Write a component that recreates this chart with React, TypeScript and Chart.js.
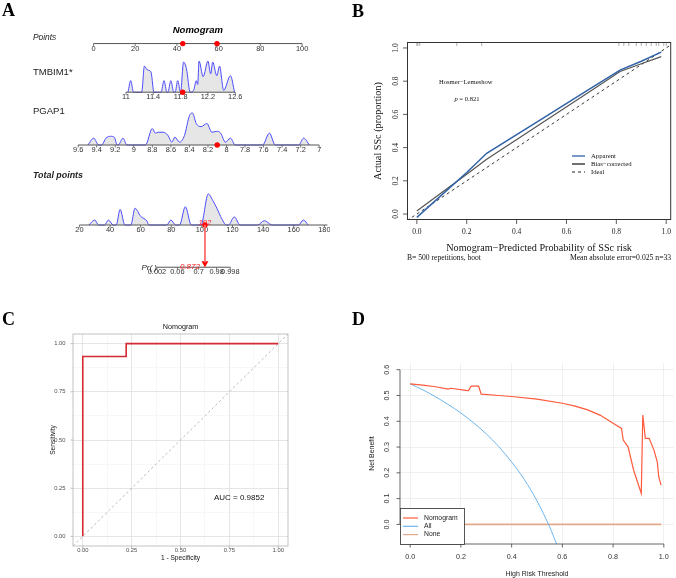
import React, { useEffect, useRef } from 'react';
import { Chart, registerables } from 'chart.js';

Chart.register(...registerables);

const SANS = '"Liberation Sans", Arial, Helvetica, sans-serif';
const SERIF = '"Liberation Serif", "Times New Roman", serif';

// ================= Panel A : nomogram =================
const POINTS_TICKS = [0, 20, 40, 60, 80, 100];
const TMBIM1_TICKS = [11, 11.4, 11.8, 12.2, 12.6];
const PGAP1_TICKS = [9.6, 9.4, 9.2, 9, 8.8, 8.6, 8.4, 8.2, 8, 7.8, 7.6, 7.4, 7.2, 7];
const TOTAL_TICKS = [20, 40, 60, 80, 100, 120, 140, 160, 180];
const PR_TICKS = [0.002, 0.06, 0.7, 0.98, 0.998];

// density outlines (value on the variable axis, relative density)
const TMBIM1_DENS_X = [11.03, 11.07, 11.11, 11.23, 11.27, 11.31, 11.35, 11.37, 11.41, 11.514, 11.557, 11.6, 11.614, 11.657, 11.7, 11.72, 11.757, 11.8, 11.843, 11.886, 11.94, 11.99, 12.03, 12.05, 12.07, 12.13, 12.2, 12.24, 12.27, 12.33, 12.37, 12.43, 12.53, 12.59];
const TMBIM1_DENS_H = [0, 0.37, 0, 0, 0.84, 0.72, 0.69, 0.62, 0, 0, 0.37, 0, 0, 0.37, 0, 0, 0.37, 0, 0.97, 0.75, 0, 0.06, 0.37, 0.25, 1.0, 0.5, 1.0, 0.59, 0.97, 0.53, 0.84, 0.06, 0.53, 0];
const PGAP1_DENS_X = [9.495, 9.432, 9.379, 9.347, 9.3, 9.25, 9.21, 9.179, 9.168, 9.116, 9.074, 8.874, 8.8, 8.768, 8.737, 8.684, 8.632, 8.589, 8.558, 8.505, 8.453, 8.4, 8.368, 8.326, 8.274, 8.211, 8.158, 8.105, 8.063, 8.011, 7.958, 7.905, 7.611, 7.537, 7.474, 7.221, 7.168, 7.105];
const PGAP1_DENS_H = [0, 0.22, 0, 0, 0.22, 0.28, 0.25, 0, 0, 0.22, 0, 0, 0.53, 0.38, 0.41, 0.41, 0.31, 0.09, 0.25, 0.09, 0.31, 0.94, 1.03, 0.69, 0.59, 0.69, 0.41, 0.44, 0.38, 0.09, 0.22, 0, 0, 0.38, 0, 0, 0.22, 0];
const TOTAL_DENS_X = [26.2, 30, 32.5, 36.4, 38.9, 42.1, 44, 46.6, 49.7, 53.6, 56.3, 60, 64.2, 65.3, 77.1, 79.7, 82.9, 85.4, 89.2, 93.1, 99.4, 104.2, 107, 109.9, 113, 116, 117.3, 121.2, 124.9, 136.4, 140.8, 145.9, 163.1, 166.3, 169.5];
const TOTAL_DENS_H = [0, 0.16, 0, 0, 0.16, 0, 0, 0.5, 0, 0, 0.54, 0.28, 0.12, 0, 0, 0.16, 0, 0, 0.59, 0, 0, 1.0, 0.8, 0.53, 0.2, 0, 0, 0.26, 0, 0, 0.14, 0, 0, 0.16, 0];

const SUBJECT_POINTS = [42.8, 59.2];
const SUBJECT_TMBIM1 = 11.83;
const SUBJECT_PGAP1 = 8.1;
const SUBJECT_TOTAL = 102;
const SUBJECT_PR = 0.872;

// ================= Panel B : calibration =================
const CAL_TICKS = [0, 0.2, 0.4, 0.6, 0.8, 1.0];
const APPARENT_X = [0, 0.1, 0.2, 0.28, 0.5, 0.7, 0.815, 0.9, 0.98];
const APPARENT_Y = [-0.02, 0.115, 0.25, 0.366, 0.572, 0.76, 0.867, 0.92, 0.975];
const BIAS_X = [0, 0.1, 0.2, 0.28, 0.5, 0.7, 0.815, 0.9, 0.98];
const BIAS_Y = [0.018, 0.13, 0.24, 0.33, 0.547, 0.744, 0.858, 0.905, 0.948];
const IDEAL_X = [-0.04, 1.02];
const IDEAL_Y = [-0.04, 1.02];
const RUG_X = [0, 0.004, 0.012, 0.16, 0.26, 0.81, 0.83, 0.85, 0.88, 0.9, 0.92, 0.94, 0.96, 0.97, 0.99, 1.0];

// ================= Panel C : ROC =================
const ROC_FPR = [0, 0, 0.2222, 0.2222, 1];
const ROC_TPR = [0, 0.9333, 0.9333, 1, 1];
const ROC_TICKS = [0, 0.25, 0.5, 0.75, 1];
const ROC_MINOR = [0.125, 0.375, 0.625, 0.875];
const AUC_LABEL = 'AUC = 0.9852';

// ================= Panel D : decision curve =================
const DCA_X_TICKS = [0, 0.2, 0.4, 0.6, 0.8, 1.0];
const DCA_Y_TICKS = [0, 0.1, 0.2, 0.3, 0.4, 0.5, 0.6];
const NOMO_THRESH = [0, 0.05, 0.1, 0.15, 0.16, 0.22, 0.23, 0.24, 0.27, 0.28, 0.35, 0.4, 0.5, 0.6, 0.65, 0.7, 0.75, 0.8, 0.833, 0.84, 0.859, 0.881, 0.911, 0.917, 0.927, 0.942, 0.961, 0.974, 0.98, 0.989];
const NOMO_NB = [0.545, 0.54, 0.534, 0.525, 0.528, 0.52, 0.519, 0.536, 0.536, 0.505, 0.5, 0.496, 0.486, 0.47, 0.459, 0.444, 0.423, 0.392, 0.372, 0.327, 0.301, 0.21, 0.12, 0.424, 0.334, 0.334, 0.288, 0.243, 0.184, 0.152];
const ALL_THRESH = [0, 0.05, 0.1, 0.15, 0.2, 0.25, 0.3, 0.35, 0.4, 0.45, 0.5, 0.55, 0.58];
const ALL_NB = [0.545, 0.522, 0.495, 0.465, 0.432, 0.394, 0.351, 0.301, 0.242, 0.174, 0.091, -0.01, -0.083];
const NONE_THRESH = [0, 0.99];
const NONE_NB = [0, 0];

// ---------------- helpers ----------------
const zip = (xs: number[], ys: number[]) => xs.map((x, i) => ({ x, y: ys[i] }));

function text(ctx: any, s: string, x: number, y: number, font: string, color = '#000', align = 'left', baseline = 'middle', rot = 0) {
  ctx.save();
  ctx.font = font;
  ctx.fillStyle = color;
  ctx.textAlign = align;
  ctx.textBaseline = baseline;
  ctx.translate(x, y);
  if (rot) ctx.rotate(rot);
  ctx.fillText(s, 0, 0);
  ctx.restore();
}

function seg(ctx: any, x1: number, y1: number, x2: number, y2: number, color: string, w = 1, dash: number[] = []) {
  ctx.save();
  ctx.strokeStyle = color;
  ctx.lineWidth = w;
  ctx.setLineDash(dash);
  ctx.beginPath();
  ctx.moveTo(x1, y1);
  ctx.lineTo(x2, y2);
  ctx.stroke();
  ctx.restore();
}

const baseOpts = {
  responsive: false,
  animation: false,
  devicePixelRatio: 1,
  events: [],
  plugins: { legend: { display: false }, tooltip: { enabled: false }, title: { display: false } },
};

// ================= Panel A config =================
const A_W = 330, A_H = 290;
const A_PTS0_PX = 91.7, A_PTS_PER = 2.138;
const A_TOT20_PX = 77.3, A_TOT_PER = 1.56875;
const A_X_MIN = -A_PTS0_PX / A_PTS_PER;
const A_X_MAX = A_X_MIN + A_W / A_PTS_PER;
const A_XT_MIN = 20 - A_TOT20_PX / A_TOT_PER;
const A_XT_MAX = A_XT_MIN + A_W / A_TOT_PER;
const ROW = { points: 40.7, tmbim1: 90.7, pgap1: 145, total: 227.3, pr: 270.7 };
const DENS_SCALE = 32;
const TMBIM1_MAP: [number, number][] = [[11, 15.57], [12.6, 67.96]];
const PGAP1_MAP: [number, number][] = [[9.6, -7.34], [7, 108.2]];
const PR_LP = { a: -24.55, b: 0.2595 };
const lin = (v: number, m: [number, number][]) => m[0][1] + ((v - m[0][0]) * (m[1][1] - m[0][1])) / (m[1][0] - m[0][0]);
const tmbPts = (v: number) => lin(v, TMBIM1_MAP);
const pgapPts = (v: number) => lin(v, PGAP1_MAP);
const prToTotal = (p: number) => (Math.log(p / (1 - p)) - PR_LP.a) / PR_LP.b;

const DENS_LINE = '#4b4bff';
const DENS_FILL = '#e6e6e6';
const RED = '#ff0000';
const AX = '#555555';

function drawNomoAxes(chart: any) {
  const ctx = chart.ctx;
  const xs = chart.scales.x, xt = chart.scales.xt, ys = chart.scales.y;
  const tickFont = `7.4px ${SANS}`;
  const axis = (scale: any, from: number, to: number, rowV: number, ticks: { p: number; l: string }[]) => {
    const y = ys.getPixelForValue(rowV);
    seg(ctx, scale.getPixelForValue(from), y, scale.getPixelForValue(to), y, AX, 1);
    ticks.forEach((t) => {
      const px = scale.getPixelForValue(t.p);
      seg(ctx, px, y, px, y + 2.5, AX, 0.8);
      text(ctx, t.l, px, y + 5, tickFont, '#333', 'center', 'middle');
    });
  };
  axis(xs, 0, 100, ROW.points, POINTS_TICKS.map((v) => ({ p: v, l: String(v) })));
  axis(xs, tmbPts(11), tmbPts(12.6), ROW.tmbim1, TMBIM1_TICKS.map((v) => ({ p: tmbPts(v), l: String(v) })));
  axis(xs, pgapPts(9.6), pgapPts(7), ROW.pgap1, PGAP1_TICKS.map((v) => ({ p: pgapPts(v), l: String(v) })));
  axis(xt, 20, 182, ROW.total, TOTAL_TICKS.map((v) => ({ p: v, l: String(v) })));
  axis(xt, prToTotal(0.002), prToTotal(0.998), ROW.pr, PR_TICKS.map((v) => ({ p: prToTotal(v), l: String(v) })));

  text(ctx, 'Nomogram', xs.getPixelForValue(50), 30, `italic bold 9.5px ${SANS}`, '#000', 'center');
  text(ctx, 'Points', 33, 37.3, `italic 8.4px ${SANS}`, '#222');
  text(ctx, 'TMBIM1*', 33, 72.7, `9.5px ${SANS}`, '#222');
  text(ctx, 'PGAP1', 33, 111.7, `9.5px ${SANS}`, '#222');
  text(ctx, 'Total points', 33, 176, `italic bold 8.9px ${SANS}`, '#222');
  text(ctx, 'Pr( )', xt.getPixelForValue(prToTotal(0.002)), 268, `italic 8px ${SANS}`, '#222', 'right');
  text(ctx, 'A', 2, 16, `bold 18px ${SERIF}`, '#000', 'left', 'alphabetic');
}

const nomoPlugin = {
  id: 'nomo',
  beforeDatasetsDraw(chart: any) {
    chart.$nomoDone = false;
  },
  beforeDatasetDraw(chart: any, args: any) {
    if (!chart.$nomoDone && chart.data.datasets[args.index].isMarker) {
      drawNomoAxes(chart);
      chart.$nomoDone = true;
    }
  },
  afterDatasetsDraw(chart: any) {
    if (!chart.$nomoDone) {
      drawNomoAxes(chart);
      chart.$nomoDone = true;
    }
    const ctx = chart.ctx;
    const xt = chart.scales.xt;
    const px = xt.getPixelForValue(SUBJECT_TOTAL);
    text(ctx, String(SUBJECT_TOTAL), px, 223, `italic 7.6px ${SANS}`, '#ff2020', 'center');
    text(ctx, String(SUBJECT_PR), xt.getPixelForValue(prToTotal(SUBJECT_PR)) - 5, 266.5, `italic 8px ${SANS}`, '#ff2020', 'right');
  },
};

function configA(): any {
  const dens = (xs: number[], hs: number[], map: (v: number) => number, row: number, axisId: string) => ({
    type: 'line',
    xAxisID: axisId,
    yAxisID: 'y',
    order: 2,
    data: xs.map((v, i) => ({ x: map(v), y: row - hs[i] * DENS_SCALE })),
    borderColor: DENS_LINE,
    borderWidth: 1,
    backgroundColor: DENS_FILL,
    fill: { value: row },
    pointRadius: 0,
    cubicInterpolationMode: 'monotone',
  });
  return {
    type: 'line',
    data: {
      datasets: [
        dens(TMBIM1_DENS_X, TMBIM1_DENS_H, tmbPts, ROW.tmbim1, 'x'),
        dens(PGAP1_DENS_X, PGAP1_DENS_H, pgapPts, ROW.pgap1, 'x'),
        dens(TOTAL_DENS_X, TOTAL_DENS_H, (v: number) => v, ROW.total, 'xt'),
        {
          type: 'scatter', isMarker: true, order: 0, xAxisID: 'x', yAxisID: 'y',
          data: [
            { x: SUBJECT_POINTS[0], y: ROW.points },
            { x: SUBJECT_POINTS[1], y: ROW.points },
            { x: tmbPts(SUBJECT_TMBIM1), y: ROW.tmbim1 },
            { x: pgapPts(SUBJECT_PGAP1), y: ROW.pgap1 },
          ],
          pointRadius: 2.7, pointBackgroundColor: RED, pointBorderWidth: 0, backgroundColor: RED,
        },
        {
          type: 'line', isMarker: true, order: 0, xAxisID: 'xt', yAxisID: 'y',
          data: [{ x: SUBJECT_TOTAL, y: ROW.total }, { x: prToTotal(SUBJECT_PR), y: ROW.pr - 5 }],
          borderColor: '#ff6a6a', borderWidth: 1, pointRadius: 0, fill: false,
        },
        {
          type: 'scatter', isMarker: true, order: 0, xAxisID: 'xt', yAxisID: 'y',
          data: [{ x: SUBJECT_TOTAL, y: ROW.total }],
          pointRadius: 2.7, pointBackgroundColor: RED, pointBorderWidth: 0, backgroundColor: RED,
        },
        {
          type: 'scatter', isMarker: true, order: 0, xAxisID: 'xt', yAxisID: 'y',
          data: [{ x: prToTotal(SUBJECT_PR), y: ROW.pr - 4 }],
          pointStyle: 'triangle', pointRotation: 180, rotation: 180,
          pointRadius: 4, pointBackgroundColor: RED, pointBorderWidth: 0, backgroundColor: RED,
        },
      ],
    },
    options: {
      ...baseOpts,
      layout: { padding: 0 },
      scales: {
        x: { type: 'linear', display: false, min: A_X_MIN, max: A_X_MAX },
        xt: { type: 'linear', axis: 'x', position: 'bottom', display: false, min: A_XT_MIN, max: A_XT_MAX },
        y: { type: 'linear', display: false, min: 0, max: A_H, reverse: true },
      },
    },
    plugins: [nomoPlugin],
  };
}

// ================= Panel B config =================
const B_W = 341, B_H = 290;
const BLUE_APP = '#3163a8';

const calPlugin = {
  id: 'cal',
  afterDatasetsDraw(chart: any) {
    const { ctx, chartArea: a } = chart;
    const x = chart.scales.x, y = chart.scales.y;
    ctx.save();
    ctx.strokeStyle = '#333';
    ctx.lineWidth = 1;
    ctx.strokeRect(a.left + 0.5, a.top + 0.5, a.right - a.left - 1, a.bottom - a.top - 1);
    ctx.restore();
    const tf = `7.5px ${SERIF}`;
    CAL_TICKS.forEach((v) => {
      const py = y.getPixelForValue(v);
      seg(ctx, a.left, py, a.left - 4, py, '#333', 0.8);
      text(ctx, v.toFixed(1), 61, py, tf, '#222', 'center', 'middle', -Math.PI / 2);
      const px = x.getPixelForValue(v);
      seg(ctx, px, a.bottom, px, a.bottom + 4, '#333', 0.8);
      text(ctx, v.toFixed(1), px, 232, tf, '#222', 'center', 'middle');
    });
    text(ctx, 'Nomogram\u2212Predicted Probability of SSc risk', (a.left + a.right) / 2, 248, `10.2px ${SERIF}`, '#111', 'center');
    text(ctx, 'B= 500 repetitions, boot', a.left, 257.5, `7.6px ${SERIF}`, '#111', 'left');
    text(ctx, 'Mean absolute error=0.025 n=33', a.right, 257.5, `7.7px ${SERIF}`, '#111', 'right');
    text(ctx, 'Actual SSc (proportion)', 43, (a.top + a.bottom) / 2, `10.2px ${SERIF}`, '#111', 'center', 'middle', -Math.PI / 2);
    text(ctx, 'Hosmer\u2212Lemeshow', 104, 82, `6.6px ${SERIF}`, '#111', 'left');
    ctx.save();
    ctx.font = `6.6px ${SERIF}`;
    const w1 = ctx.measureText(' = 0.821').width;
    ctx.font = `italic 6.6px ${SERIF}`;
    const w0 = ctx.measureText('p').width;
    ctx.restore();
    const sx = 132 - (w0 + w1) / 2;
    text(ctx, 'p', sx, 99.3, `italic 6.6px ${SERIF}`, '#111', 'left');
    text(ctx, ' = 0.821', sx + w0, 99.3, `6.6px ${SERIF}`, '#111', 'left');
    // legend
    const items = [
      { l: 'Apparent', c: BLUE_APP, d: [] as number[], w: 1.3 },
      { l: 'Bias\u2212corrected', c: '#222', d: [] as number[], w: 1.3 },
      { l: 'Ideal', c: '#222', d: [3, 3], w: 1 },
    ];
    items.forEach((it, i) => {
      const yy = 156 + i * 8;
      seg(ctx, 237, yy, 250, yy, it.c, it.w, it.d);
      text(ctx, it.l, 256, yy, `6.7px ${SERIF}`, '#111', 'left');
    });
    text(ctx, 'B', 17, 17, `bold 18px ${SERIF}`, '#000', 'left', 'alphabetic');
  },
};

function configB(): any {
  return {
    type: 'line',
    data: {
      datasets: [
        { data: zip(APPARENT_X, APPARENT_Y), borderColor: BLUE_APP, borderWidth: 1.5, pointRadius: 0, fill: false },
        { data: zip(BIAS_X, BIAS_Y), borderColor: '#555', borderWidth: 1.2, pointRadius: 0, fill: false },
        { data: zip(IDEAL_X, IDEAL_Y), borderColor: '#222', borderWidth: 0.9, borderDash: [3, 3], pointRadius: 0, fill: false },
        {
          type: 'scatter', data: RUG_X.map((v) => ({ x: v, y: 1.024 })),
          pointStyle: 'line', pointRotation: 90, pointRadius: 2, pointBorderColor: '#999', pointBorderWidth: 0.8, clip: false,
        },
      ],
    },
    options: {
      ...baseOpts,
      layout: { padding: { left: 72, top: 42, right: 1, bottom: 70 } },
      scales: {
        x: { type: 'linear', display: false, min: -0.0395, max: 1.02 },
        y: { type: 'linear', display: false, min: -0.036, max: 1.036 },
      },
    },
    plugins: [calPlugin],
  };
}

// ================= Panel C config =================
const C_W = 335, C_H = 288;
const ROC_RED = '#d42a34';

const rocPlugin = {
  id: 'roc',
  afterDatasetsDraw(chart: any) {
    const { ctx, chartArea: a } = chart;
    const x = chart.scales.x, y = chart.scales.y;
    ctx.save();
    ctx.strokeStyle = '#b3b3b3';
    ctx.lineWidth = 0.8;
    ctx.strokeRect(a.left, a.top, a.right - a.left, a.bottom - a.top);
    ctx.restore();
    const tf = `5.8px ${SANS}`;
    ROC_TICKS.forEach((v) => {
      const py = y.getPixelForValue(v);
      seg(ctx, a.left, py, a.left - 2.5, py, '#b3b3b3', 0.8);
      text(ctx, v.toFixed(2), a.left - 7.5, py, tf, '#4d4d4d', 'right');
      const px = x.getPixelForValue(v);
      seg(ctx, px, a.bottom, px, a.bottom + 2.5, '#b3b3b3', 0.8);
      text(ctx, v.toFixed(2), px, 260.7, tf, '#4d4d4d', 'center');
    });
    text(ctx, 'Nomogram', (a.left + a.right) / 2, 37, `7.2px ${SANS}`, '#111', 'center');
    text(ctx, '1 - Specificity', (a.left + a.right) / 2, 268, `6.6px ${SANS}`, '#111', 'center');
    text(ctx, 'Sensitivity', 53, (a.top + a.bottom) / 2, `6.6px ${SANS}`, '#111', 'center', 'middle', -Math.PI / 2);
    text(ctx, AUC_LABEL, x.getPixelForValue(0.8), y.getPixelForValue(0.2), `8px ${SANS}`, '#111', 'center');
    text(ctx, 'C', 2, 35, `bold 18px ${SERIF}`, '#000', 'left', 'alphabetic');
  },
};

function gridScale(min: number, max: number, ticks: number[], colorFn: (v: number) => string, widthFn: (v: number) => number, vertical: boolean): any {
  return {
    type: 'linear',
    min,
    max,
    display: true,
    afterBuildTicks: (s: any) => {
      s.ticks = ticks.map((v) => ({ value: v }));
    },
    afterFit: (s: any) => {
      if (vertical) s.width = 0;
      else s.height = 0;
    },
    ticks: { display: false },
    border: { display: false },
    grid: {
      drawTicks: false,
      color: (c: any) => colorFn(c.tick ? c.tick.value : 0),
      lineWidth: (c: any) => widthFn(c.tick ? c.tick.value : 0),
    },
  };
}

function configC(): any {
  const all = [...ROC_TICKS, ...ROC_MINOR];
  const isMajor = (v: number) => ROC_TICKS.some((t) => Math.abs(t - v) < 1e-6);
  const col = (v: number) => (isMajor(v) ? '#dedede' : '#efefef');
  const wid = (v: number) => (isMajor(v) ? 0.8 : 0.5);
  return {
    type: 'line',
    data: {
      datasets: [
        { data: zip(ROC_FPR, ROC_TPR), borderColor: ROC_RED, borderWidth: 1.6, pointRadius: 0, fill: false },
        { data: [{ x: -0.05, y: -0.05 }, { x: 1.05, y: 1.05 }], borderColor: '#a8a8a8', borderWidth: 0.8, borderDash: [2.5, 2.5], pointRadius: 0, fill: false },
      ],
    },
    options: {
      ...baseOpts,
      layout: { padding: { left: 73, top: 44, right: C_W - 288, bottom: C_H - 256 } },
      scales: {
        x: gridScale(-0.05, 1.05, all, col, wid, false),
        y: gridScale(-0.05, 1.05, all, col, wid, true),
      },
    },
    plugins: [rocPlugin],
  };
}

// ================= Panel D config =================
const D_W = 341, D_H = 288;
const NOMO_COL = '#ff5a3c';
const ALL_COL = '#6cb6ef';
const NONE_COL = '#e2aa8c';

const dcaPlugin = {
  id: 'dca',
  afterDatasetsDraw(chart: any) {
    const { ctx, chartArea: a } = chart;
    const x = chart.scales.x, y = chart.scales.y;
    const tf = `7.2px ${SANS}`;
    seg(ctx, a.left, y.getPixelForValue(0), a.left, y.getPixelForValue(0.6), '#555', 0.9);
    DCA_Y_TICKS.forEach((v) => {
      const py = y.getPixelForValue(v);
      seg(ctx, a.left, py, a.left - 3.5, py, '#555', 0.9);
      text(ctx, v.toFixed(1), 52, py, tf, '#333', 'center', 'middle', -Math.PI / 2);
    });
    seg(ctx, x.getPixelForValue(0), a.bottom, x.getPixelForValue(1), a.bottom, '#555', 0.9);
    DCA_X_TICKS.forEach((v) => {
      const px = x.getPixelForValue(v);
      seg(ctx, px, a.bottom, px, a.bottom + 3.5, '#555', 0.9);
      text(ctx, v.toFixed(1), px, 267, tf, '#333', 'center');
    });
    text(ctx, 'High Risk Threshold', (x.getPixelForValue(0) + x.getPixelForValue(1)) / 2, 284, `7px ${SANS}`, '#222', 'center');
    text(ctx, 'Net Benefit', 37, (a.top + a.bottom) / 2, `7px ${SANS}`, '#222', 'center', 'middle', -Math.PI / 2);
    // legend box (bottom-left)
    const lx = a.left, ly = 218, lw = 64, lh = a.bottom - 218;
    ctx.save();
    ctx.fillStyle = '#fff';
    ctx.fillRect(lx, ly, lw, lh);
    ctx.strokeStyle = '#444';
    ctx.lineWidth = 0.9;
    ctx.strokeRect(lx + 0.5, ly + 0.5, lw, lh);
    ctx.restore();
    const items = [
      { l: 'Nomogram', c: NOMO_COL },
      { l: 'All', c: ALL_COL },
      { l: 'None', c: NONE_COL },
    ];
    items.forEach((it, i) => {
      const yy = 228 + i * 8.3;
      seg(ctx, lx + 3, yy, lx + 18, yy, it.c, 1.2);
      text(ctx, it.l, lx + 24, yy, `6.8px ${SANS}`, '#222', 'left');
    });
    text(ctx, 'D', 17, 35, `bold 18px ${SERIF}`, '#000', 'left', 'alphabetic');
  },
};

function configD(): any {
  const gc = () => '#ececec';
  const gw = () => 0.8;
  return {
    type: 'line',
    data: {
      datasets: [
        { data: zip(NOMO_THRESH, NOMO_NB), borderColor: NOMO_COL, borderWidth: 1.2, pointRadius: 0, fill: false },
        { data: zip(ALL_THRESH, ALL_NB), borderColor: ALL_COL, borderWidth: 1, pointRadius: 0, fill: false, cubicInterpolationMode: 'monotone' },
        { data: zip(NONE_THRESH, NONE_NB), borderColor: NONE_COL, borderWidth: 1.6, pointRadius: 0, fill: false },
      ],
    },
    options: {
      ...baseOpts,
      layout: { padding: { left: 65, top: 73, right: D_W - 339, bottom: D_H - 254 } },
      scales: {
        x: gridScale(-0.04, 1.04, DCA_X_TICKS, gc, gw, false),
        y: gridScale(-0.076, 0.626, DCA_Y_TICKS, gc, gw, true),
      },
    },
    plugins: [dcaPlugin],
  };
}

export default function App() {
  const aRef = useRef<HTMLCanvasElement>(null);
  const bRef = useRef<HTMLCanvasElement>(null);
  const cRef = useRef<HTMLCanvasElement>(null);
  const dRef = useRef<HTMLCanvasElement>(null);

  useEffect(() => {
    const charts = [
      new Chart(aRef.current as any, configA()),
      new Chart(bRef.current as any, configB()),
      new Chart(cRef.current as any, configC()),
      new Chart(dRef.current as any, configD()),
    ];
    return () => charts.forEach((c) => c.destroy());
  }, []);

  const cs = (l: number, t: number, w: number, h: number): any => ({ position: 'absolute', left: l, top: t, width: w, height: h });
  return (
    <div style={{ position: 'absolute', left: 0, top: 0, width: 676, height: 578, background: '#fff', overflow: 'hidden' }}>
      <canvas ref={aRef} width={A_W} height={A_H} style={cs(0, 0, A_W, A_H)} />
      <canvas ref={bRef} width={B_W} height={B_H} style={cs(335, 0, B_W, B_H)} />
      <canvas ref={cRef} width={C_W} height={C_H} style={cs(0, 290, C_W, C_H)} />
      <canvas ref={dRef} width={D_W} height={D_H} style={cs(335, 290, D_W, D_H)} />
    </div>
  );
}
